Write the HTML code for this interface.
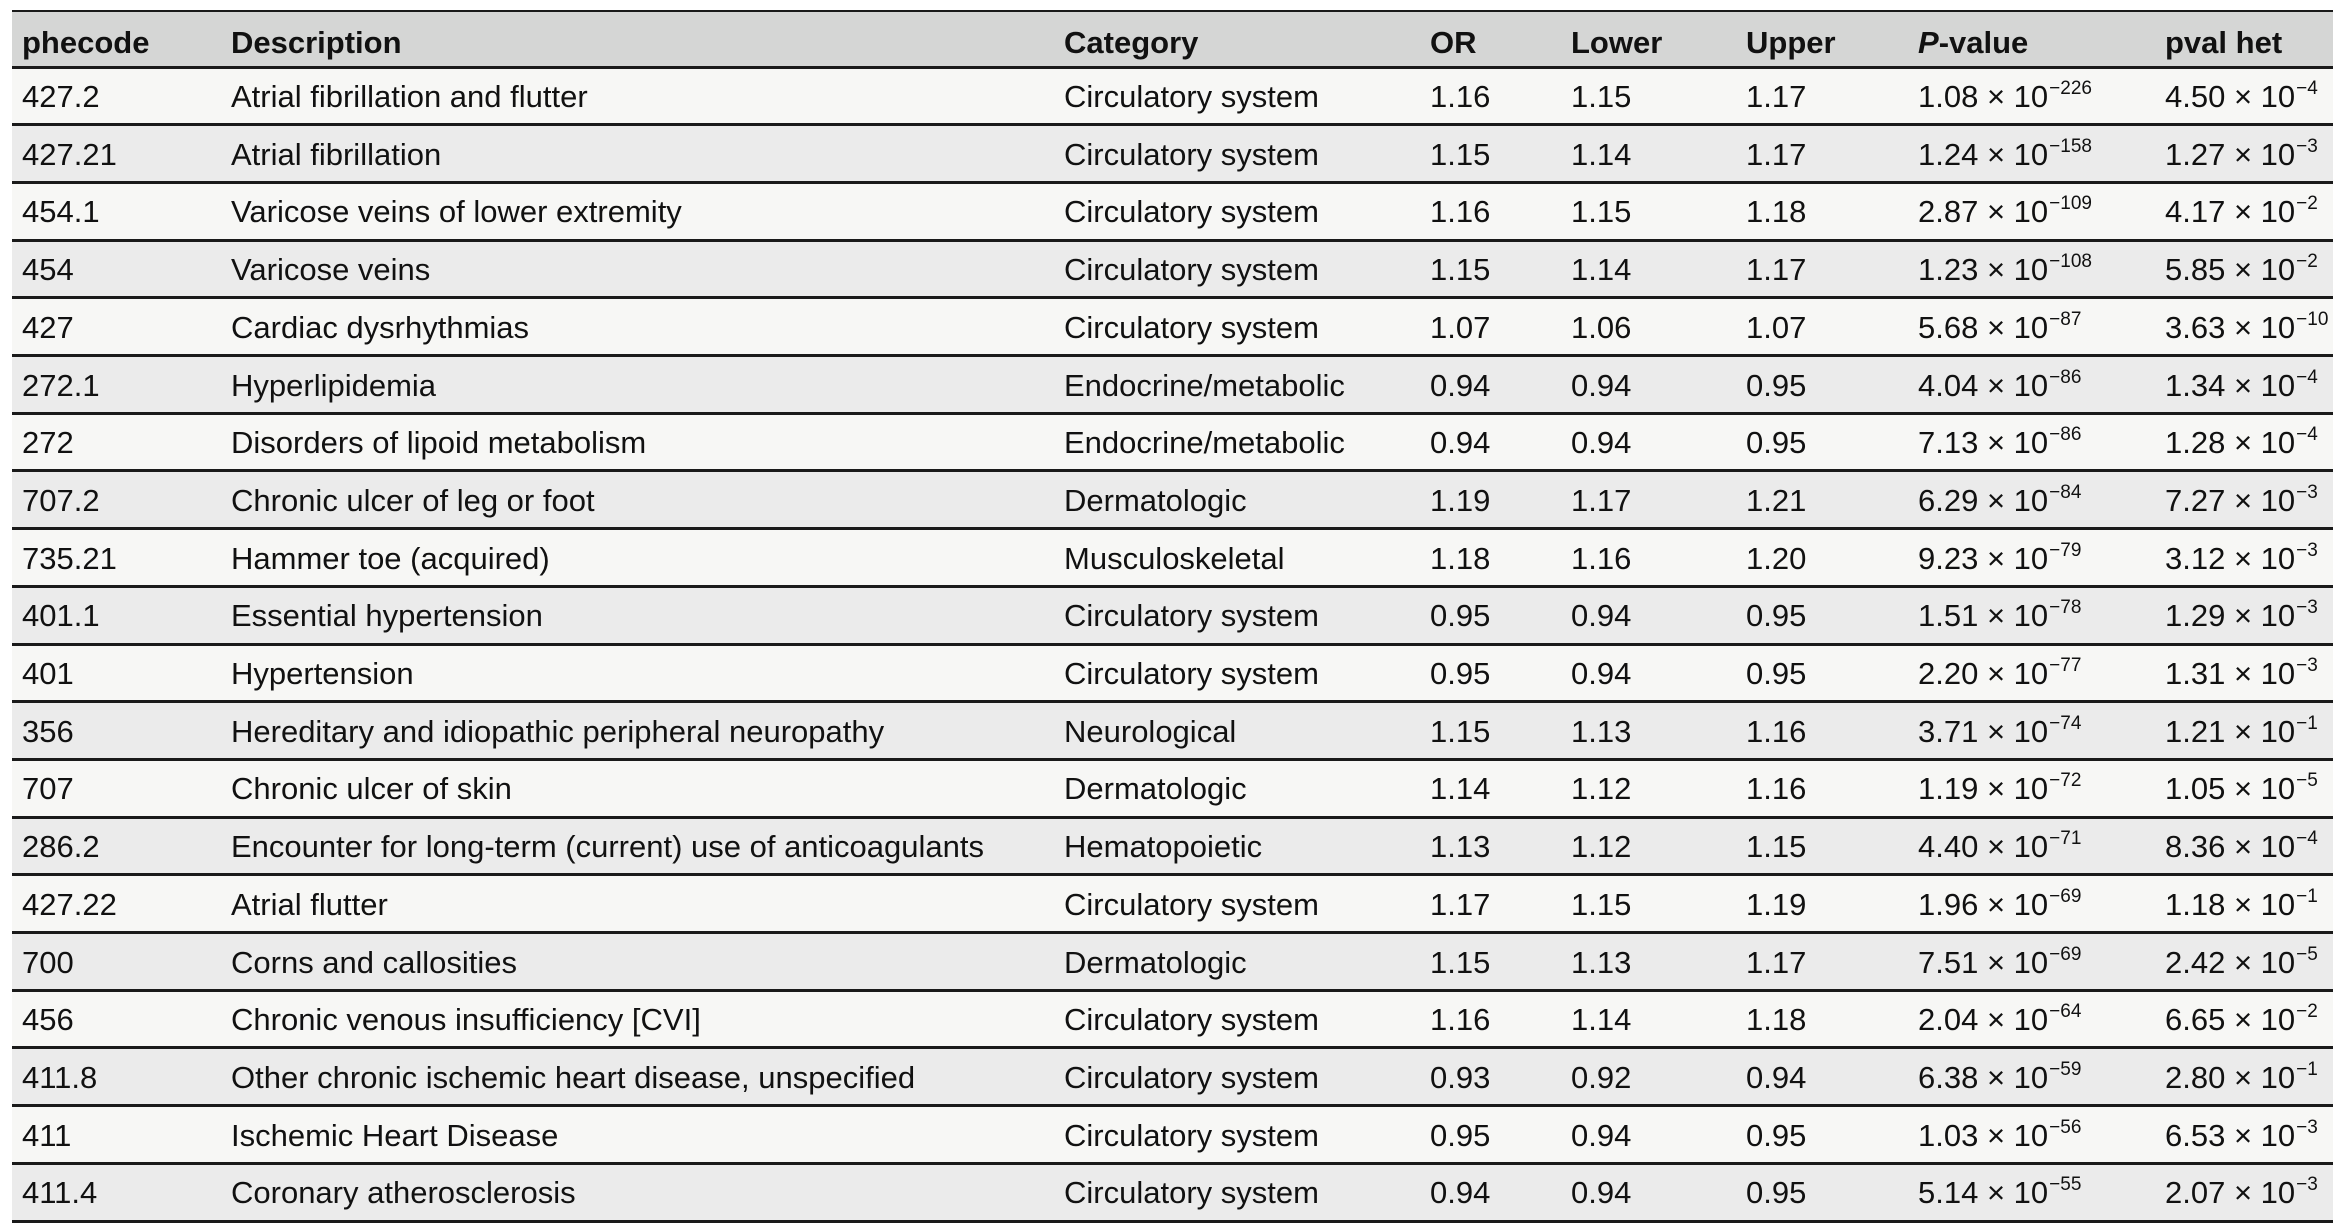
<!DOCTYPE html>
<html><head><meta charset="utf-8">
<style>
html,body{margin:0;padding:0;background:#fff;}
body{width:2340px;height:1228px;position:relative;overflow:hidden;font-family:"Liberation Sans",Arial,sans-serif;color:#111;}
.row{position:absolute;left:12px;width:2321px;height:57.7px;}
.cell{position:absolute;top:1px;height:100%;line-height:57.7px;font-size:31px;white-space:nowrap;letter-spacing:0px;}
.hdr .cell{font-weight:bold;font-size:31px;top:4px;}
.line{position:absolute;left:12px;width:2321px;background:#1a1a1a;}
sup{font-size:19px;position:relative;top:-13px;vertical-align:baseline;line-height:0;margin-left:1px;}
</style></head>
<body>
<div id="tbl"></div>
<script>
const cols=[10,219,1052,1418,1559,1734,1906,2153];
const headers=['phecode','Description','Category','OR','Lower','Upper','P-value','pval het'];
const phecodes=['427.2','427.21','454.1','454','427','272.1','272','707.2','735.21','401.1','401','356','707','286.2','427.22','700','456','411.8','411','411.4'];
const descs=['Atrial fibrillation and flutter','Atrial fibrillation','Varicose veins of lower extremity','Varicose veins','Cardiac dysrhythmias','Hyperlipidemia','Disorders of lipoid metabolism','Chronic ulcer of leg or foot','Hammer toe (acquired)','Essential hypertension','Hypertension','Hereditary and idiopathic peripheral neuropathy','Chronic ulcer of skin','Encounter for long-term (current) use of anticoagulants','Atrial flutter','Corns and callosities','Chronic venous insufficiency [CVI]','Other chronic ischemic heart disease, unspecified','Ischemic Heart Disease','Coronary atherosclerosis'];
const cats=['Circulatory system','Circulatory system','Circulatory system','Circulatory system','Circulatory system','Endocrine/metabolic','Endocrine/metabolic','Dermatologic','Musculoskeletal','Circulatory system','Circulatory system','Neurological','Dermatologic','Hematopoietic','Circulatory system','Dermatologic','Circulatory system','Circulatory system','Circulatory system','Circulatory system'];
const ors=['1.16','1.15','1.16','1.15','1.07','0.94','0.94','1.19','1.18','0.95','0.95','1.15','1.14','1.13','1.17','1.15','1.16','0.93','0.95','0.94'];
const lowers=['1.15','1.14','1.15','1.14','1.06','0.94','0.94','1.17','1.16','0.94','0.94','1.13','1.12','1.12','1.15','1.13','1.14','0.92','0.94','0.94'];
const uppers=['1.17','1.17','1.18','1.17','1.07','0.95','0.95','1.21','1.20','0.95','0.95','1.16','1.16','1.15','1.19','1.17','1.18','0.94','0.95','0.95'];
const pMant=['1.08','1.24','2.87','1.23','5.68','4.04','7.13','6.29','9.23','1.51','2.20','3.71','1.19','4.40','1.96','7.51','2.04','6.38','1.03','5.14'];
const pExp=['226','158','109','108','87','86','86','84','79','78','77','74','72','71','69','69','64','59','56','55'];
const hMant=['4.50','1.27','4.17','5.85','3.63','1.34','1.28','7.27','3.12','1.29','1.31','1.21','1.05','8.36','1.18','2.42','6.65','2.80','6.53','2.07'];
const hExp=['4','3','2','2','10','4','4','3','3','3','3','1','5','4','1','5','2','1','3','3'];
const colNames=['phecode','description','category','or','lower','upper','p-value','pval-het'];
const tbl=document.getElementById('tbl');
const TOP=11,HDR=56,RH=57.7;
function addLine(y,h){const l=document.createElement('div');l.className='line';l.style.top=y+'px';l.style.height=h+'px';


tbl.appendChild(l);}
const hr=document.createElement('div');hr.className='row hdr';hr.style.top=TOP+'px';hr.style.height=HDR+'px';hr.style.background='#d5d6d5';


headers.forEach((h,j)=>{const c=document.createElement('div');c.className='cell';c.style.left=cols[j]+'px';c.style.lineHeight=HDR+'px';
c.innerHTML=j===6?'<i>P</i>-value':h;


hr.appendChild(c);});
tbl.appendChild(hr);
for(let i=0;i<phecodes.length;i++){
  const r=document.createElement('div');r.className='row';r.style.top=(TOP+HDR+i*RH)+'px';r.style.background=i%2?'#ebebeb':'#f7f7f5';
  
  
  const vals=[phecodes[i],descs[i],cats[i],ors[i],lowers[i],uppers[i],pMant[i]+' × 10<sup>−'+pExp[i]+'</sup>',hMant[i]+' × 10<sup>−'+hExp[i]+'</sup>'];
  vals.forEach((v,j)=>{const c=document.createElement('div');c.className='cell';c.style.left=cols[j]+'px';c.innerHTML=v;
  
  
  r.appendChild(c);});
  tbl.appendChild(r);
}
addLine(TOP-1,2);
addLine(TOP+HDR-1.5,3);
for(let i=1;i<=phecodes.length;i++){addLine(TOP+HDR+i*RH-1.5,3);}
</script>
</body></html>
